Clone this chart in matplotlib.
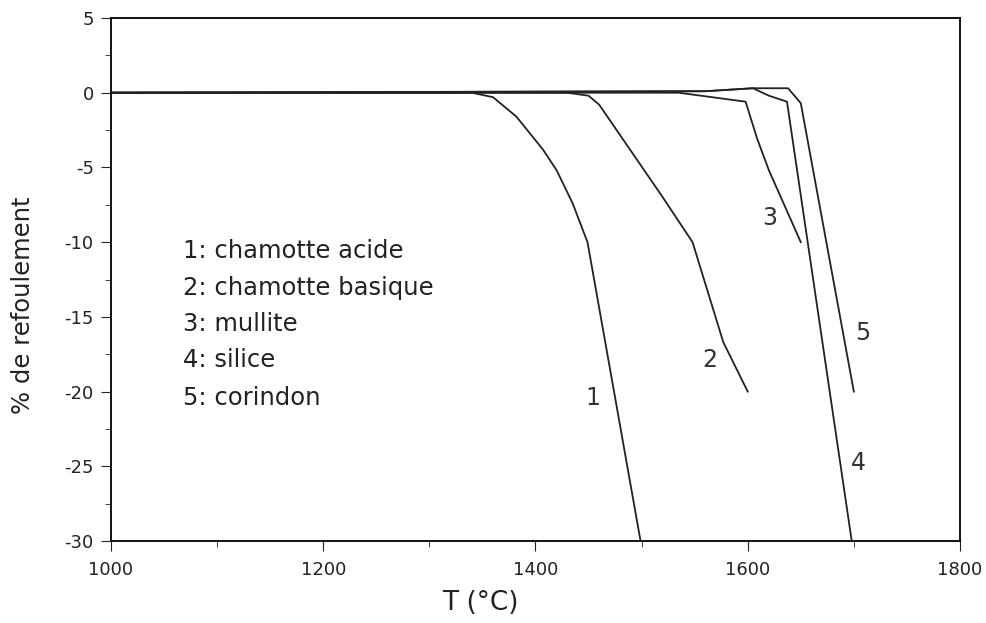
import matplotlib.pyplot as plt
from matplotlib.ticker import MultipleLocator

plt.rcParams['font.family'] = ['DejaVu Sans']
plt.rcParams['axes.unicode_minus'] = False

# curves: temperature (°C) / % de refoulement
t1 = [1000, 1340, 1360, 1382, 1407, 1420, 1435, 1449, 1499]
y1 = [0, 0, -0.3, -1.6, -3.8, -5.2, -7.4, -10, -30]

t2 = [1000, 1430, 1450, 1460, 1519, 1548, 1577, 1600]
y2 = [0, 0, -0.2, -0.8, -6.9, -10, -16.7, -20]

t3 = [1000, 1535, 1598, 1609, 1620, 1650]
y3 = [0, 0, -0.6, -3.1, -5.2, -10]

t4 = [1000, 1560, 1605, 1620, 1637, 1698]
y4 = [0, 0.1, 0.3, -0.2, -0.6, -30]

t5 = [1000, 1560, 1605, 1638, 1650, 1700]
y5 = [0, 0.1, 0.3, 0.3, -0.7, -20]

curve_labels = ['1', '2', '3', '4', '5']
label_pos = [(1454, -20.4), (1564, -17.9), (1621, -8.4), (1704, -24.8), (1708, -16.1)]

legend_lines = ['1: chamotte acide', '2: chamotte basique', '3: mullite',
                '4: silice', '5: corindon']
legend_y = [-10.6, -13.05, -15.5, -17.9, -20.4]

fig = plt.figure(figsize=(9.87, 6.23), dpi=100)
ax = fig.add_axes([0.1125, 0.1316, 0.8601, 0.8395])

for t, y in [(t1, y1), (t2, y2), (t3, y3), (t4, y4), (t5, y5)]:
    ax.plot(t, y, color='#222222', lw=1.3)

for lab, (x, y) in zip(curve_labels, label_pos):
    ax.text(x, y, lab, fontsize=17, color='#333333', ha='center', va='center')

for txt, y in zip(legend_lines, legend_y):
    ax.text(1068, y, txt, fontsize=17.5, color='#222222', ha='left', va='center')

ax.set_xlim(1000, 1800)
ax.set_ylim(-30, 5)
ax.xaxis.set_major_locator(MultipleLocator(200))
ax.xaxis.set_minor_locator(MultipleLocator(100))
ax.yaxis.set_major_locator(MultipleLocator(5))
ax.yaxis.set_minor_locator(MultipleLocator(2.5))
ax.tick_params(which='both', direction='out', labelsize=13, colors='#222222')
ax.tick_params(which='major', length=7.5, pad=5)
ax.tick_params(axis='x', which='major', pad=7)
ax.tick_params(which='minor', length=4)
ax.set_xlabel('T (°C)', fontsize=19, color='#222222')
ax.xaxis.set_label_coords(0.4355, -0.094)
ax.set_ylabel('% de refoulement', fontsize=17.5, color='#222222')
ax.yaxis.set_label_coords(-0.090, 0.45)
for s in ax.spines.values():
    s.set_linewidth(1.3)

fig.savefig('out.png', dpi=100)
